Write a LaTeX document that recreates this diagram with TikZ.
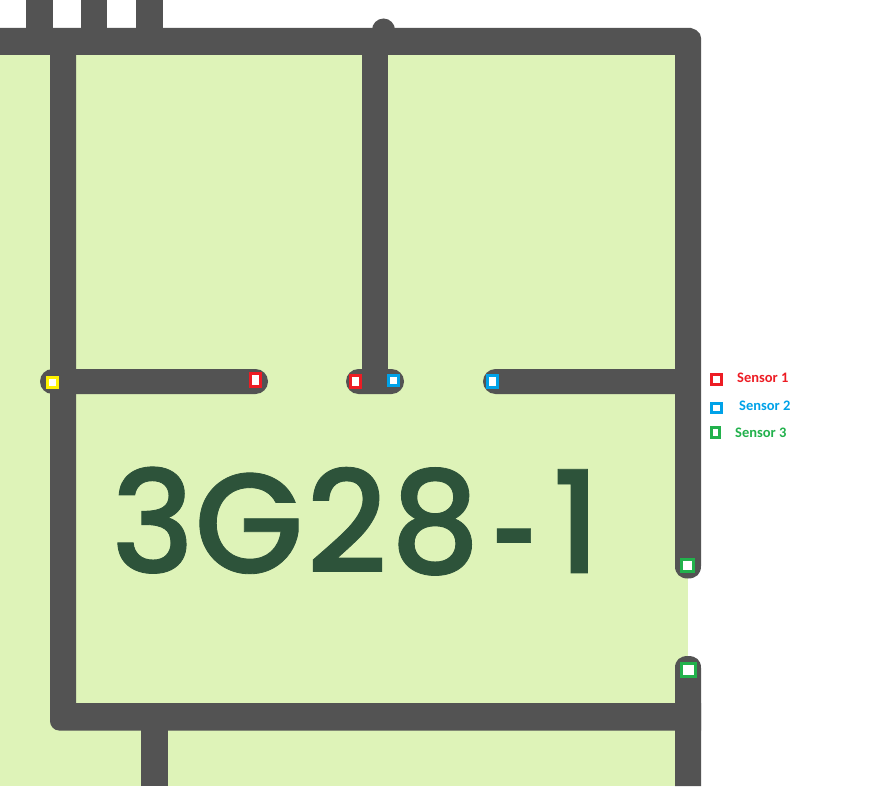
\documentclass[tikz,border=0pt]{standalone}
\usepackage{fontspec}
\setmainfont{Carlito}
\newfontfamily\roomfont{Poppins Medium}[FakeBold=0.6]
\definecolor{wallc}{HTML}{535353}
\definecolor{roomc}{HTML}{DEF3B8}
\definecolor{labelc}{HTML}{2D533A}
\definecolor{sred}{HTML}{ED1C24}
\definecolor{sblue}{HTML}{00A2E8}
\definecolor{sgreen}{HTML}{22B14C}
\definecolor{syellow}{HTML}{FFF200}
\tikzset{
  wall/.style={fill=wallc,draw=none},
  room/.style={fill=roomc,draw=none},
  sensor/.style={fill=white,line width=3pt,draw=#1},
  legendtext/.style={font=\fontsize{14.5}{14.5}\selectfont\bfseries,inner sep=0pt,text=#1},
}
\begin{document}
\begin{tikzpicture}[x=1pt,y=-1pt]
\useasboundingbox (0,0) rectangle (890,786);
% room
\path[room] (0,40) rectangle (688,786);
% top stubs
\path[wall] (26,0) rectangle (52.5,30);
\path[wall] (81,0) rectangle (107,30);
\path[wall] (136,0) rectangle (163,30);
% top band and upper right wall
\path[wall] (0,28) -- (691,28) -- (696,30) -- (700,34) -- (701,38) -- (701,566)
  .. controls (701,574) and (696,578.5) .. (688,578.5) .. controls (680,578.5) and (675,574) .. (675,566)
  -- (675,55) -- (0,55) -- cycle;
% mid bump and vertical
\path[wall] (383.5,30) circle (11.5);
\path[wall] (362,40) rectangle (388,380);
% left wall and bottom band
\path[wall] (76,40) -- (76,703) -- (701,703) -- (701,730.5) -- (59,730.5)
  .. controls (54,730.5) and (50,726) .. (50,721) -- (50,40) -- cycle;
% lower right wall
\path[wall] (675,786) -- (675,668) .. controls (675,660) and (680,656) .. (688,656)
  .. controls (696,656) and (701,660) .. (701,668) -- (701,786) -- cycle;
% bottom stub
\path[wall] (141,725) rectangle (168,786);
% horizontals with round caps
\path[wall,rounded corners=12.5pt] (40,369) rectangle (268,394);
\path[wall,rounded corners=12.5pt] (346,369) rectangle (404,394);
\path[wall,rounded corners=12.5pt] (483,369) rectangle (688,394);
% room name
\node[text=labelc,inner sep=0pt,anchor=center] (name) at (356,527) {\resizebox{490pt}{106pt}{\roomfont 3G\kern0.02em 2\kern0.02em 8\kern0.07em\raisebox{-0.10em}{\scalebox{0.58}[1]{-}}\kern0.1em 1}};
% sensors on plan
\path[sensor=syellow] (47.5,377.5) rectangle (57.5,387.5);
\path[sensor=sred] (250.5,373.5) rectangle (260.5,386.5);
\path[sensor=sred] (350.5,375.5) rectangle (360.5,387.5);
\path[sensor=sblue] (388.5,375.5) rectangle (398.5,385.5);
\path[sensor=sblue] (487.5,375.5) rectangle (497.5,387.5);
\path[sensor=sgreen] (681.5,559.5) rectangle (693.5,571.5);
\path[sensor=sgreen] (681.5,663.5) rectangle (695.5,676.5);
% legend
\path[sensor=sred] (711.5,374.5) rectangle (721.5,384.5);
\path[sensor=sblue] (711.5,403.5) rectangle (721.5,412.5);
\path[sensor=sgreen] (711.5,427.5) rectangle (719.5,437.5);
\node[legendtext=sred,anchor=west] (s1) at (737,378) {Sensor 1};
\node[legendtext=sblue,anchor=west] (s2) at (739,406) {Sensor 2};
\node[legendtext=sgreen,anchor=west] (s3) at (735,433) {Sensor 3};
\end{tikzpicture}
\end{document}
